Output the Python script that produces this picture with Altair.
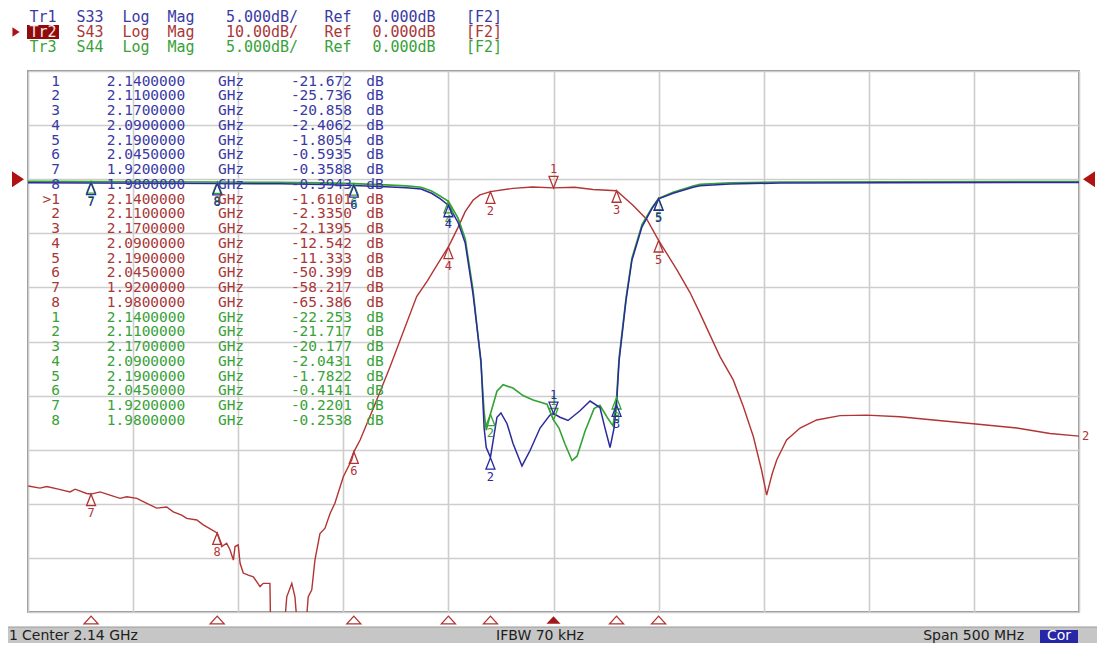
import altair as alt
import pandas as pd

F_START, F_STOP = 1.89, 2.39          # Center 2.14 GHz, Span 500 MHz
GRID_FREQ = [1.89, 1.94, 1.99, 2.04, 2.09, 2.14, 2.19, 2.24, 2.29, 2.34, 2.39]
GRID_DB_TR2 = [-80, -70, -60, -50, -40, -30, -20, -10, 0, 10, 20]

# Tr2  S43 (10 dB/div)
S43_FREQ = [1.8901, 1.8957, 1.8989, 1.9044, 1.9100, 1.9124, 1.9179, 1.9200, 1.9243, 1.9290,
            1.9338, 1.9370, 1.9418, 1.9465, 1.9512, 1.9560, 1.9591, 1.9631, 1.9655, 1.9703,
            1.9734, 1.9800, 1.9822, 1.9845, 1.9861, 1.9877, 1.9885, 1.9900, 1.9909, 1.9924,
            1.9948, 1.9972, 2.0004, 2.0019, 2.0051, 2.0055, 2.0115, 2.0131, 2.0155, 2.0170,
            2.0186, 2.0218, 2.0233, 2.0250, 2.0265, 2.0289, 2.0313, 2.0337, 2.0360, 2.0400,
            2.0440, 2.0450, 2.0480, 2.0559, 2.0622, 2.0749, 2.0800, 2.0850, 2.0900, 2.0946,
            2.0980, 2.1017, 2.1050, 2.1100, 2.1207, 2.1300, 2.1400, 2.1500, 2.1588, 2.1700,
            2.1778, 2.1845, 2.1900, 2.1988, 2.2050, 2.2097, 2.2192, 2.2255, 2.2303, 2.2351,
            2.2390, 2.2414, 2.2440, 2.2462, 2.2509, 2.2573, 2.2652, 2.2763, 2.2890, 2.3048,
            2.3207, 2.3397, 2.3604, 2.3762, 2.3900]
S43_DB = [-56.7, -57.1, -56.8, -57.3, -57.8, -57.3, -58.1, -58.2, -57.8, -58.4,
          -59.0, -58.7, -59.0, -59.9, -60.8, -60.6, -61.5, -62.1, -62.7, -63.0,
          -63.9, -65.4, -67.9, -67.3, -68.5, -70.4, -67.9, -67.6, -71.0, -72.8,
          -73.2, -73.5, -75.3, -74.7, -74.7, -85.0, -85.0, -77.2, -74.7, -77.2,
          -85.0, -85.0, -77.2, -75.9, -70.4, -65.5, -64.5, -61.8, -59.9, -55.0,
          -51.9, -50.4, -48.2, -40.8, -34.7, -21.7, -18.8, -15.6, -12.5, -8.9,
          -6.0, -3.9, -2.9, -2.3, -1.7, -1.45, -1.61, -1.5, -1.9, -2.14,
          -4.8, -7.5, -11.3, -16.8, -21.0, -24.8, -32.8, -37.1, -42.0, -47.6,
          -53.8, -58.4, -54.5, -51.9, -48.2, -46.0, -44.5, -43.7, -43.6, -43.9,
          -44.5, -45.2, -46.0, -47.0, -47.5]

# Tr1  S33 (5 dB/div)
S33_FREQ = [1.8900, 1.9200, 1.9500, 1.9800, 2.0100, 2.0300, 2.0450, 2.0600, 2.0700, 2.0770,
            2.0820, 2.0860, 2.0900, 2.0946, 2.0980, 2.1017, 2.1055, 2.1070, 2.1080, 2.1100,
            2.1131, 2.1150, 2.1179, 2.1207, 2.1250, 2.1288, 2.1336, 2.1383, 2.1400, 2.1431,
            2.1469, 2.1526, 2.1574, 2.1621, 2.1645, 2.1669, 2.1688, 2.1700, 2.1712, 2.1745,
            2.1773, 2.1821, 2.1869, 2.1900, 2.1969, 2.2064, 2.2097, 2.2240, 2.2478, 2.3000,
            2.3900]
S33_DB = [-0.33, -0.36, -0.37, -0.39, -0.43, -0.49, -0.59, -0.70, -0.80, -0.90,
          -1.30, -1.80, -2.41, -4.0, -5.9, -10.6, -16.8, -23.0, -24.8, -25.7,
          -22.0, -21.6, -22.6, -24.4, -26.5, -25.1, -23.0, -21.8, -21.67, -22.0,
          -22.3, -21.4, -20.5, -21.1, -23.0, -24.8, -23.0, -20.86, -16.8, -11.2,
          -7.5, -4.4, -2.7, -1.81, -1.3, -0.74, -0.60, -0.45, -0.35, -0.32,
          -0.30]

# Tr3  S44 (5 dB/div)
S44_FREQ = [1.8900, 1.9200, 1.9500, 1.9800, 2.0100, 2.0300, 2.0450, 2.0600, 2.0700, 2.0770,
            2.0820, 2.0860, 2.0900, 2.0946, 2.0980, 2.1017, 2.1055, 2.1070, 2.1080, 2.1100,
            2.1131, 2.1160, 2.1207, 2.1255, 2.1303, 2.1369, 2.1400, 2.1426, 2.1455, 2.1488,
            2.1512, 2.1550, 2.1593, 2.1621, 2.1655, 2.1683, 2.1700, 2.1712, 2.1745, 2.1773,
            2.1821, 2.1869, 2.1900, 2.1969, 2.2064, 2.2097, 2.2240, 2.2478, 2.3000, 2.3900]
S44_DB = [-0.20, -0.22, -0.23, -0.254, -0.29, -0.34, -0.41, -0.52, -0.62, -0.75,
          -1.10, -1.55, -2.04, -3.6, -5.5, -10.2, -17.0, -21.5, -23.2, -21.7,
          -19.6, -19.0, -19.3, -20.0, -20.4, -20.8, -22.25, -23.0, -24.5, -26.0,
          -25.6, -23.3, -21.2, -20.9, -22.0, -22.8, -20.18, -16.5, -11.0, -7.3,
          -4.2, -2.6, -1.78, -1.2, -0.62, -0.48, -0.33, -0.26, -0.23, -0.22]

# marker table
MARKER_FREQ = [2.14, 2.11, 2.17, 2.09, 2.19, 2.045, 1.92, 1.98]
S33_MKR = [-21.672, -25.736, -20.858, -2.4062, -1.8054, -0.5935, -0.3588, -0.3943]
S43_MKR = [-1.6101, -2.3350, -2.1395, -12.542, -11.333, -50.399, -58.217, -65.386]
S44_MKR = [-22.253, -21.717, -20.177, -2.0431, -1.7822, -0.4141, -0.2201, -0.2538]

HEADER_LINES = [
    ["Tr1", "S33", "Log", "Mag", "5.000dB/", "Ref", "0.000dB", "[F2]"],
    ["Tr2", "S43", "Log", "Mag", "10.00dB/", "Ref", "0.000dB", "[F2]"],
    ["Tr3", "S44", "Log", "Mag", "5.000dB/", "Ref", "0.000dB", "[F2]"],
]
STATUS_LEFT = "Center 2.14 GHz"
STATUS_MID = "IFBW 70 kHz"
STATUS_RIGHT = "Span 500 MHz"

# ---------------- styling ----------------
MONO = "DejaVu Sans Mono"
SANS = "DejaVu Sans"
BLUE, RED, GREEN = "#2a2a9e", "#b23434", "#33a333"
TBLUE, TRED, TGREEN = "#3a3aa4", "#a83838", "#38a238"
GRIDC = "#cdcdcd"

W, H = 1051, 541
X = alt.Scale(domain=[F_START, F_STOP], nice=False, zero=False)
Y2 = alt.Scale(domain=[-80, 20], nice=False, zero=False)     # Tr2 10 dB/div, ref pos 8
Y13 = alt.Scale(domain=[-40, 10], nice=False, zero=False)    # Tr1/Tr3 5 dB/div, ref pos 8
X_AX = alt.Axis(values=GRID_FREQ, grid=True, labels=False, ticks=False, domain=False,
                title=None, gridColor=GRIDC, gridWidth=1.6, gridOpacity=1)
Y_AX = alt.Axis(values=GRID_DB_TR2, grid=True, labels=False, ticks=False, domain=False,
                title=None, gridColor=GRIDC, gridWidth=1.6, gridOpacity=1)

TRI_BELOW = "M0,0L0.9,2.3L-0.9,2.3Z"
TRI_ABOVE = "M0,0L0.9,-2.3L-0.9,-2.3Z"
TRI_FLAT = "M0,-0.55L1,0.55L-1,0.55Z"
ARROW_R = "M-0.75,-1L0.75,0L-0.75,1Z"
ARROW_L = "M0.75,-1L-0.75,0L0.75,1Z"

layers = []

# traces
s43 = pd.DataFrame({"f": S43_FREQ, "db": S43_DB})
s33 = pd.DataFrame({"f": S33_FREQ, "db": S33_DB})
s44 = pd.DataFrame({"f": S44_FREQ, "db": S44_DB})

layers.append(alt.Chart(s43).mark_line(color=RED, strokeWidth=1.4, clip=True).encode(
    x=alt.X("f:Q", scale=X, axis=X_AX),
    y=alt.Y("db:Q", scale=Y2, axis=Y_AX)))
layers.append(alt.Chart(s44).mark_line(color=GREEN, strokeWidth=1.6, clip=True).encode(
    x=alt.X("f:Q", scale=X, axis=X_AX),
    y=alt.Y("db:Q", scale=Y13, axis=None)))
layers.append(alt.Chart(s33).mark_line(color=BLUE, strokeWidth=1.5, clip=True).encode(
    x=alt.X("f:Q", scale=X, axis=X_AX),
    y=alt.Y("db:Q", scale=Y13, axis=None)))


def marker_layers(vals, color, yscale):
    df = pd.DataFrame({"f": MARKER_FREQ, "db": vals,
                       "n": [str(i + 1) for i in range(len(vals))]})
    base = alt.Chart(df).encode(x=alt.X("f:Q", scale=X, axis=X_AX),
                                y=alt.Y("db:Q", scale=yscale, axis=None))
    below = base.transform_filter("datum.n != '1'")
    above = base.transform_filter("datum.n == '1'")
    return [
        below.mark_point(shape=TRI_BELOW, filled=False, color=color, size=100, strokeWidth=1.3, opacity=1),
        below.mark_text(dy=19, color=color, font=MONO, fontSize=12).encode(text="n:N"),
        above.mark_point(shape=TRI_ABOVE, filled=False, color=color, size=100, strokeWidth=1.3, opacity=1),
        above.mark_text(dy=-19, color=color, font=MONO, fontSize=12).encode(text="n:N"),
    ]


layers += marker_layers(S44_MKR, GREEN, Y13)
layers += marker_layers(S33_MKR, BLUE, Y13)
layers += marker_layers(S43_MKR, RED, Y2)

# active-trace marker row under the grid
mrow = pd.DataFrame({"f": MARKER_FREQ, "n": [i + 1 for i in range(len(MARKER_FREQ))]})
mbase = alt.Chart(mrow).encode(x=alt.X("f:Q", scale=X, axis=X_AX), y=alt.value(H + 8))
layers.append(mbase.transform_filter("datum.n != 1").mark_point(
    shape=TRI_FLAT, filled=False, color=RED, size=196, strokeWidth=1.3, opacity=1))
layers.append(mbase.transform_filter("datum.n == 1").mark_point(
    shape=TRI_FLAT, filled=True, color="#a01818", size=196, opacity=1))

# reference level arrows and trace end label
ref = pd.DataFrame({"db": [0.0]})
layers.append(alt.Chart(ref).mark_point(shape=ARROW_R, filled=True, color="#b01212", size=256, opacity=1)
              .encode(x=alt.value(-10), y=alt.Y("db:Q", scale=Y2, axis=None)))
layers.append(alt.Chart(ref).mark_point(shape=ARROW_L, filled=True, color="#b01212", size=256, opacity=1)
              .encode(x=alt.value(W + 10), y=alt.Y("db:Q", scale=Y2, axis=None)))
endlab = pd.DataFrame({"db": [S43_DB[-1]], "t": ["2"]})
layers.append(alt.Chart(endlab).mark_text(align="left", color=RED, font=MONO, fontSize=12)
              .encode(x=alt.value(W + 3), y=alt.Y("db:Q", scale=Y2, axis=None), text="t:N"))

# marker table
rows = []
for vals, col, tag in [(S33_MKR, TBLUE, "Tr1"), (S43_MKR, TRED, "Tr2"), (S44_MKR, TGREEN, "Tr3")]:
    for i, (f, v) in enumerate(zip(MARKER_FREQ, vals)):
        num = str(i + 1)
        if tag == "Tr2" and i == 0:
            num = ">1"
        vtxt = f"{v:.3f}" if abs(v) >= 10 else f"{v:.4f}"
        rows.append({"r": len(rows), "num": num, "freq": f"{f:.7f}", "unit": "GHz",
                     "val": vtxt, "db": "dB", "c": col})
tab = pd.DataFrame(rows)
ROW_Y = alt.Y("r:Q", scale=alt.Scale(domain=[0, 23], range=[10.5, 10.5 + 23 * 14.75]), axis=None)
tbase = alt.Chart(tab).encode(y=ROW_Y, color=alt.Color("c:N", scale=None))
for field, xpos, al in [("num", 32, "right"), ("freq", 118, "center"), ("unit", 203, "center"),
                        ("val", 324, "right"), ("db", 347, "center")]:
    layers.append(tbase.mark_text(align=al, baseline="middle", font=MONO, fontSize=14.5)
                  .encode(x=alt.value(xpos), text=f"{field}:N"))

# header (trace status lines)
hdr_cols = [15, 62, 108, 153, 234, 310, 376, 456]
hdr_colors = [TBLUE, TRED, TGREEN]
hrows = []
for li, toks in enumerate(HEADER_LINES):
    for tok, hx in zip(toks, hdr_cols):
        c = hdr_colors[li]
        if li == 1 and tok == "Tr2":
            c = "#ffe6e6"
        hrows.append({"t": tok, "hx": hx, "hy": -54 + 15 * li, "c": c})
hdr = pd.DataFrame(hrows)
layers.append(alt.Chart(pd.DataFrame({"a": [0]})).mark_rect(color="#8e0c0c").encode(
    x=alt.value(-1), x2=alt.value(31), y=alt.value(-46), y2=alt.value(-32)))
layers.append(alt.Chart(hdr).mark_text(align="center", baseline="middle", font=MONO, fontSize=15)
              .encode(x=alt.X("hx:Q", scale=None), y=alt.Y("hy:Q", scale=None),
                      text="t:N", color=alt.Color("c:N", scale=None)))
layers.append(alt.Chart(pd.DataFrame({"a": [0]})).mark_point(
    shape=ARROW_R, filled=True, color="#b01212", size=90, opacity=1).encode(
    x=alt.value(-12), y=alt.value(-39)))

# status bar
layers.append(alt.Chart(pd.DataFrame({"a": [0]})).mark_rect(color="#c6c6c6").encode(
    x=alt.value(-20), x2=alt.value(W + 18), y=alt.value(556), y2=alt.value(590)))
layers.append(alt.Chart(pd.DataFrame({"a": [0]})).mark_rule(color="#9a9a9a", strokeWidth=1).encode(
    x=alt.value(-20), x2=alt.value(W + 18), y=alt.value(556)))
layers.append(alt.Chart(pd.DataFrame({"a": [0]})).mark_rect(color="#2626a6").encode(
    x=alt.value(1012), x2=alt.value(1050), y=alt.value(559), y2=alt.value(573)))
status = pd.DataFrame({
    "t": ["1", STATUS_LEFT, STATUS_MID, STATUS_RIGHT, "Cor"],
    "sx": [-19, -6, 512, 996, 1031],
    "al": ["left", "left", "center", "right", "center"],
    "c": ["#202020", "#202020", "#202020", "#202020", "#ffffff"],
})
for al in ["left", "center", "right"]:
    layers.append(alt.Chart(status).transform_filter(f"datum.al == '{al}'")
                  .mark_text(align=al, baseline="middle", font=SANS, fontSize=14)
                  .encode(x=alt.X("sx:Q", scale=None), y=alt.value(565), text="t:N",
                          color=alt.Color("c:N", scale=None)))

chart = alt.layer(*layers).resolve_scale(y="independent").properties(
    width=W, height=H,
    padding={"left": 20, "top": 63, "right": 18, "bottom": 31},
    autosize=alt.AutoSizeParams(type="none"),
    background="white",
).configure_view(stroke="#6c6c6c", strokeWidth=1.5)

chart.save("out.html", embed_options={"renderer": "svg", "actions": False})
